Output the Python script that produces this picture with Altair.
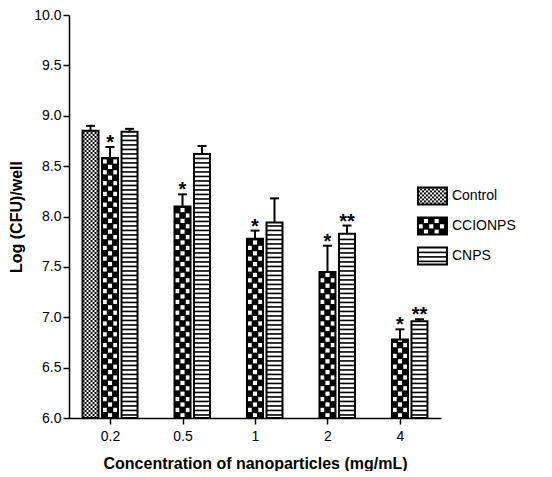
import json
import altair as alt
import pandas as pd

# ---------------- data ----------------
conc_labels = ["0.2", "0.5", "1", "2", "4"]
series_names = ["Control", "CCIONPS", "CNPS"]

bar_conc = ["0.2", "0.2", "0.2", "0.5", "0.5", "1", "1", "2", "2", "4", "4"]
bar_series = ["Control", "CCIONPS", "CNPS", "CCIONPS", "CNPS", "CCIONPS", "CNPS",
              "CCIONPS", "CNPS", "CCIONPS", "CNPS"]
bar_value = [8.85, 8.58, 8.84, 8.10, 8.62, 7.78, 7.94, 7.45, 7.83, 6.78, 6.96]
bar_err = [0.05, 0.11, 0.03, 0.12, 0.08, 0.08, 0.24, 0.26, 0.08, 0.10, 0.02]
bar_sig = ["", "*", "", "*", "", "*", "", "*", "**", "*", "**"]

# ---------------- layout (pixels -> data units) ----------------
W, H = 372, 403
XDOM = [-0.566, 4.566]
YDOM = [6.0, 10.0]
XPPU = W / (XDOM[1] - XDOM[0])
YPPU = H / (YDOM[1] - YDOM[0])
SLOT = 19.5 / XPPU          # distance between bars of one group
HALF = 8.0 / XPPU           # half bar width
CAP = 4.5 / XPPU            # half error-bar cap width

bars = pd.DataFrame({
    "conc": bar_conc, "series": bar_series, "value": bar_value,
    "err": bar_err, "sig": bar_sig,
})
bars["g"] = [conc_labels.index(c) for c in bars["conc"]]
bars["s"] = [series_names.index(s) for s in bars["series"]]
bars["xc"] = bars["g"] + (bars["s"] - 1) * SLOT
bars["x0"] = bars["xc"] - HALF
bars["x1"] = bars["xc"] + HALF
bars["yb"] = YDOM[0]
bars["yt"] = bars["value"]
bars["top"] = bars["value"] + bars["err"]

# legend swatches (manual legend so the fill patterns can be shown)
LEG_X0 = (417 - 109) / 72.5
LEG_X1 = (446 - 109) / 72.5
LEG_Y = 8.204
LEG_STEP = 30.0 / YPPU
LEG_HALF = 8.5 / YPPU
legend = pd.DataFrame({"series": series_names})
legend["s"] = range(len(series_names))
legend["x0"] = LEG_X0
legend["x1"] = LEG_X1
legend["ym"] = LEG_Y - legend["s"] * LEG_STEP
legend["yb"] = legend["ym"] - LEG_HALF
legend["yt"] = legend["ym"] + LEG_HALF

rects = pd.concat([bars[["series", "s", "x0", "x1", "yb", "yt"]],
                   legend[["series", "s", "x0", "x1", "yb", "yt"]]],
                  ignore_index=True)

FONT = "Liberation Sans"
XS = alt.Scale(domain=XDOM, nice=False, zero=False)
YS = alt.Scale(domain=YDOM, nice=False, zero=False)
XT = "Concentration of nanoparticles (mg/mL)"
YT = "Log (CFU)/well"
XA = alt.Axis(values=list(range(len(conc_labels))),
              labelExpr=json.dumps(conc_labels) + "[datum.value]",
              grid=False, domainColor="black", domainWidth=1.5,
              tickColor="black", tickWidth=1.5, tickSize=6,
              labelFont=FONT, labelFontSize=14, labelColor="black",
              labelPadding=5, titleFont=FONT, titleFontSize=16,
              titleFontWeight="bold", titleColor="black", titlePadding=12)
YA = alt.Axis(values=[6.0 + 0.5 * i for i in range(9)], format=".1f",
              grid=False, domainColor="black", domainWidth=1.5,
              tickColor="black", tickWidth=1.5, tickSize=6,
              labelFont=FONT, labelFontSize=14, labelColor="black",
              labelPadding=2, titleFont=FONT, titleFontSize=16,
              titleFontWeight="bold", titleColor="black", titlePadding=9)


def X(f):
    return alt.X(f, type="quantitative", scale=XS, axis=XA, title=XT)


def Y(f):
    return alt.Y(f, type="quantitative", scale=YS, axis=YA, title=YT)


base = alt.Chart(rects)

fill_map = alt.Scale(domain=series_names, range=["white", "black", "white"])
bg = base.mark_rect(strokeWidth=0).encode(
    x=X("x0"), x2="x1", y=Y("yb"), y2="yt",
    fill=alt.Fill("series:N", scale=fill_map, legend=None))


def cell_layer(name, cw, ch, parity, inset, color):
    cw_u = cw / XPPU
    ch_u = ch / YPPU
    ix = inset / XPPU
    iy = inset / YPPU
    return (base.transform_filter(alt.datum.series == name)
            .transform_calculate(r=f"sequence(0, ceil((datum.yt - datum.yb)/{ch_u}))")
            .transform_flatten(["r"])
            .transform_calculate(c=f"sequence(0, round((datum.x1 - datum.x0)/{cw_u}))")
            .transform_flatten(["c"])
            .transform_filter(f"(datum.r + datum.c) % 2 == {parity}")
            .transform_calculate(
                cx0=f"datum.x0 + datum.c*{cw_u} + {ix}",
                cx1=f"min(datum.x0 + (datum.c+1)*{cw_u}, datum.x1) - {ix}",
                cy0=f"datum.yb + datum.r*{ch_u} + {iy}",
                cy1=f"min(datum.yb + (datum.r+1)*{ch_u}, datum.yt) - {iy}")
            .transform_filter("datum.cy1 > datum.cy0")
            .mark_rect(color=color, strokeWidth=0)
            .encode(x=X("cx0:Q"), x2="cx1:Q", y=Y("cy0:Q"), y2="cy1:Q"))


control_cells = cell_layer("Control", 2.0, 2.0, 0, 0.0, "black")
ccionps_cells = cell_layer("CCIONPS", 16.0 / 3, 5.4, 1, 0.6, "white")

PER = 4.5 / YPPU
TH = 1.6 / YPPU
stripes = (base.transform_filter(alt.datum.series == "CNPS")
           .transform_calculate(r=f"sequence(0, floor((datum.yt - datum.yb)/{PER}))")
           .transform_flatten(["r"])
           .transform_calculate(sy0=f"datum.yb + (datum.r + 0.5)*{PER}",
                                sy1=f"datum.yb + (datum.r + 0.5)*{PER} + {TH}")
           .transform_filter("datum.sy1 < datum.yt")
           .mark_rect(color="black", strokeWidth=0)
           .encode(x=X("x0"), x2="x1", y=Y("sy0:Q"), y2="sy1:Q"))

outline = base.mark_rect(fill=None, stroke="black", strokeWidth=2).encode(
    x=X("x0"), x2="x1", y=Y("yb"), y2="yt")

eb = alt.Chart(bars)
err_line = eb.mark_rule(color="black", strokeWidth=2).encode(
    x=X("xc"), y=Y("value"), y2="top")
err_cap = eb.transform_calculate(
    c0=f"datum.xc - {CAP}", c1=f"datum.xc + {CAP}").mark_rule(
    color="black", strokeWidth=2).encode(x=X("c0:Q"), x2="c1:Q", y=Y("top"))
stars = eb.mark_text(font=FONT, fontSize=20, fontWeight="bold", color="black",
                     baseline="middle", dy=-4).encode(
    x=X("xc"), y=Y("top"), text="sig:N")

leg_text = alt.Chart(legend).mark_text(
    font=FONT, fontSize=14, color="black", align="left", baseline="middle", dx=5
).encode(x=X("x1"), y=Y("ym"), text="series:N")

chart = alt.layer(bg, control_cells, ccionps_cells, stripes, outline,
                  err_line, err_cap, stars, leg_text).properties(
    width=W, height=H, padding={"left": 0, "top": 0, "right": 4, "bottom": 0}
).configure_view(strokeWidth=0)

chart.save("out.html", embed_options={"renderer": "svg", "actions": False})
